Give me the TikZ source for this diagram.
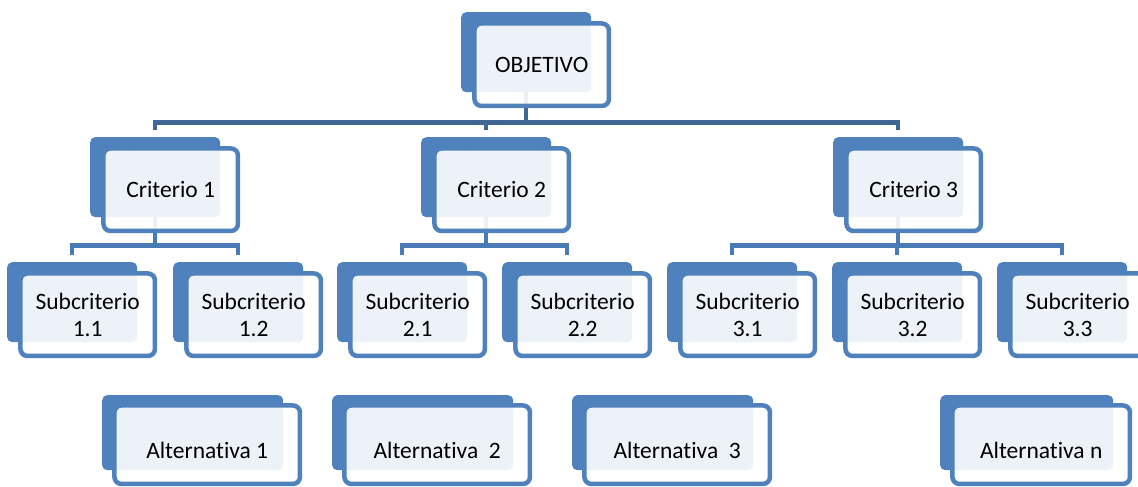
\documentclass[tikz,border=0pt]{standalone}
\definecolor{boxblue}{RGB}{79, 129, 189}
\definecolor{linkdark}{RGB}{64, 102, 150}
\definecolor{linkmid}{RGB}{74, 122, 182}
\usepackage{fontspec}
\setmainfont{Carlito}[RawFeature={-liga;-clig;-rlig;-calt;-dlig}]
\usepackage{tikz}
\usetikzlibrary{positioning, calc}

\tikzset{
  backbox/.style={fill=boxblue, rounded corners=5pt, anchor=north west, inner sep=0pt,
    minimum width=130pt, minimum height=80pt},
  frontbox/.style={draw=boxblue, line width=4.5pt, fill=white, fill opacity=0.9, text opacity=1,
    rounded corners=7pt, minimum width=134.5pt, minimum height=82.5pt, align=center,
    font=\fontsize{23.5}{27}\selectfont},
  altbox/.style={frontbox, minimum height=78.5pt, text height=27pt},
  toplink/.style={draw=linkdark, line width=4.5pt, shorten >=7pt},
  sublink/.style={draw=linkmid, line width=4.5pt, shorten >=7pt}
}

\begin{document}
\begin{tikzpicture}[x=1pt, y=-1pt]
  \clip (0,0) rectangle (1138,487);
  \useasboundingbox (0,0) rectangle (1138,487);

  % back boxes
  \node[backbox] (obj) at (461,12) {};
  \node[backbox] (crit1) at (90,137) {};
  \node[backbox] (crit2) at (421,137) {};
  \node[backbox] (crit3) at (833,137) {};
  \node[backbox] (sub11) at (7,262) {};
  \node[backbox] (sub12) at (173,262) {};
  \node[backbox] (sub21) at (337,262) {};
  \node[backbox] (sub22) at (502,262) {};
  \node[backbox] (sub31) at (667,262) {};
  \node[backbox] (sub32) at (832,262) {};
  \node[backbox] (sub33) at (997,262) {};
  \node[backbox, minimum width=181pt, minimum height=75pt] (alt1) at (102,395) {};
  \node[backbox, minimum width=181pt, minimum height=75pt] (alt2) at (332,395) {};
  \node[backbox, minimum width=181pt, minimum height=75pt] (alt3) at (572,395) {};
  \node[backbox, minimum width=173pt, minimum height=75pt] (altn) at (940,395) {};

  % connectors
  \draw[toplink] (obj.south) -- ++(0,30) -| (crit1.north);
  \draw[toplink] (obj.south) -- ++(0,30) -| (crit2.north);
  \draw[toplink] (obj.south) -- ++(0,30) -| (crit3.north);
  \draw[sublink] (crit1.south) -- ++(0,28) -| (sub11.north);
  \draw[sublink] (crit1.south) -- ++(0,28) -| (sub12.north);
  \draw[sublink] (crit2.south) -- ++(0,28) -| (sub21.north);
  \draw[sublink] (crit2.south) -- ++(0,28) -| (sub22.north);
  \draw[sublink] (crit3.south) -- ++(0,28) -| (sub31.north);
  \draw[sublink] (crit3.south) -- ++(0,28) -| (sub32.north);
  \draw[sublink] (crit3.south) -- ++(0,28) -| (sub33.north);

  % front boxes
  \node[frontbox] (obj-f) at ($(obj.center)+(15.5,12.5)$) {OBJETIVO};
  \node[frontbox] (crit1-f) at ($(crit1.center)+(15.5,12.5)$) {Criterio 1};
  \node[frontbox] (crit2-f) at ($(crit2.center)+(15.5,12.5)$) {Criterio 2};
  \node[frontbox] (crit3-f) at ($(crit3.center)+(15.5,12.5)$) {Criterio 3};
  \node[frontbox] (sub11-f) at ($(sub11.center)+(15.5,12.5)$) {Subcriterio\\1.1};
  \node[frontbox] (sub12-f) at ($(sub12.center)+(15.5,12.5)$) {Subcriterio\\1.2};
  \node[frontbox] (sub21-f) at ($(sub21.center)+(15.5,12.5)$) {Subcriterio\\2.1};
  \node[frontbox] (sub22-f) at ($(sub22.center)+(15.5,12.5)$) {Subcriterio\\2.2};
  \node[frontbox] (sub31-f) at ($(sub31.center)+(15.5,12.5)$) {Subcriterio\\3.1};
  \node[frontbox] (sub32-f) at ($(sub32.center)+(15.5,12.5)$) {Subcriterio\\3.2};
  \node[frontbox] (sub33-f) at ($(sub33.center)+(15.5,12.5)$) {Subcriterio\\3.3};
  \node[altbox, minimum width=185.5pt] (alt1-f) at ($(alt1.center)+(14.5,12)$) {Alternativa 1};
  \node[altbox, minimum width=185.5pt] (alt2-f) at ($(alt2.center)+(14.5,12)$) {Alternativa~~2};
  \node[altbox, minimum width=185.5pt] (alt3-f) at ($(alt3.center)+(14.5,12)$) {Alternativa~~3};
  \node[altbox, minimum width=177.5pt] (altn-f) at ($(altn.center)+(14.5,12)$) {Alternativa n};
\end{tikzpicture}
\end{document}
